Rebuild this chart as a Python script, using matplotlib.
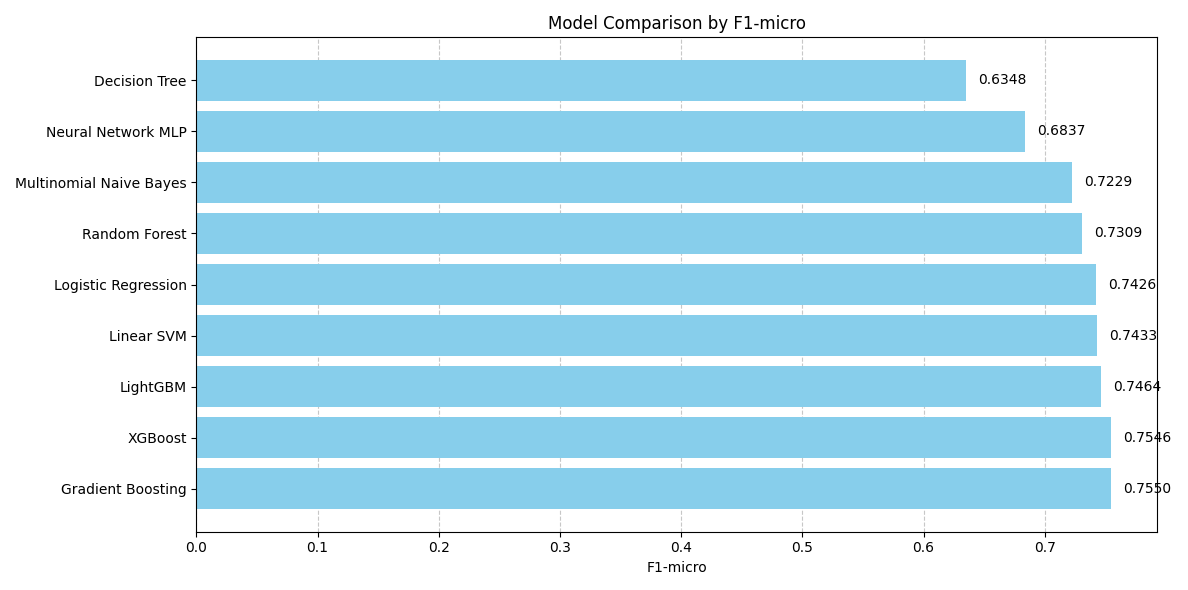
import matplotlib
matplotlib.use("Agg")
import matplotlib.pyplot as plt

models = ["Gradient Boosting", "XGBoost", "LightGBM", "Linear SVM", "Logistic Regression",
          "Random Forest", "Multinomial Naive Bayes", "Neural Network MLP", "Decision Tree"]
scores = [0.7550, 0.7546, 0.7464, 0.7433, 0.7426, 0.7309, 0.7229, 0.6837, 0.6348]

fig, ax = plt.subplots(figsize=(11.88, 5.9), dpi=100)
ax.barh(models, scores, color="skyblue")
for i, v in enumerate(scores):
    ax.text(v + 0.01, i, f"{v:.4f}", va="center")
ax.set_xlim(0, max(scores) * 1.05)
ax.set_xlabel("F1-micro")
ax.set_title("Model Comparison by F1-micro")
ax.grid(axis="x", linestyle="--", alpha=0.7)
ax.set_axisbelow(True)
plt.tight_layout()
plt.savefig("out.png")
